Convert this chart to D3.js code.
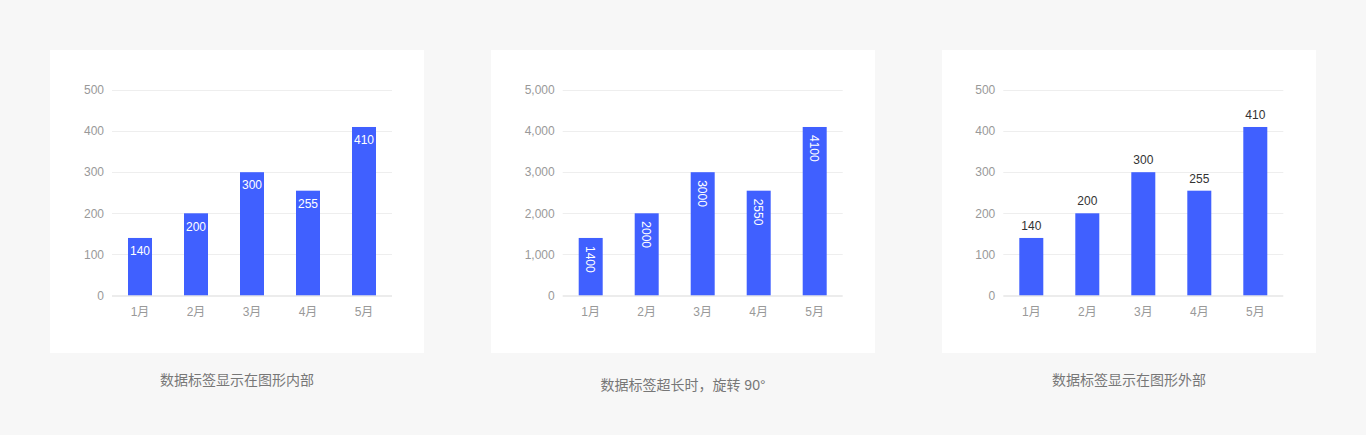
<!DOCTYPE html>
<html lang="zh">
<head>
    <meta charset="UTF-8">
    <title>数据标签</title>
    <script src="https://d3js.org/d3.v7.min.js"></script>
    <style>
        body {
            margin: 0;
            background-color: #f7f7f7;
            font-family: 'Liberation Sans', 'Noto Sans CJK SC', sans-serif;
        }

        .grid line {
            stroke: #eeeeee;
            stroke-width: 1px;
        }

        .tick-label {
            font-size: 12px;
            fill: #999;
        }

        .caption {
            font-size: 14px;
            fill: #777;
        }
    </style>
</head>
<body>
    <svg width="1366" height="435" id="chart"></svg>

    <script>
        const months = ["1月", "2月", "3月", "4月", "5月"];
        const valuesSmall = [140, 200, 300, 255, 410];
        const valuesLarge = [1400, 2000, 3000, 2550, 4100];
        const ticksSmall = [0, 100, 200, 300, 400, 500];
        const ticksLarge = [0, 1000, 2000, 3000, 4000, 5000];
        const captions = ["数据标签显示在图形内部", "数据标签超长时，旋转 90°", "数据标签显示在图形外部"];

        const svg = d3.select("#chart");
        const barColor = "#4060ff";

        // panel boxes, plot area inside each
        const panels = [
            { x: 50, w: 374, plotX: 112, values: valuesSmall, ticks: ticksSmall, max: 500, mode: "inside", captionY: 380 },
            { x: 491, w: 384, plotX: 562.7, values: valuesLarge, ticks: ticksLarge, max: 5000, mode: "rotate", captionY: 385 },
            { x: 942, w: 374, plotX: 1003.3, values: valuesSmall, ticks: ticksSmall, max: 500, mode: "outside", captionY: 380 }
        ];

        const plotW = 280, plotTop = 90, plotBottom = 295.5;

        panels.forEach((p, i) => {
            svg.append("rect")
                .attr("x", p.x).attr("y", 50)
                .attr("width", p.w).attr("height", 303)
                .attr("fill", "#fff");

            const g = svg.append("g").attr("transform", `translate(${p.plotX},0)`);

            const x = d3.scaleBand().domain(months).range([0, plotW])
                .paddingInner(4 / 7).paddingOuter(2 / 7);
            const y = d3.scaleLinear().domain([0, p.max]).range([plotBottom, plotTop]);

            // gridlines
            g.append("g").attr("class", "grid")
                .selectAll("line").data(p.ticks.filter(t => t > 0)).enter()
                .append("line")
                .attr("x1", 0).attr("x2", plotW)
                .attr("y1", d => Math.round(y(d)) + 0.5).attr("y2", d => Math.round(y(d)) + 0.5);

            // y tick labels
            const fmt = p.max > 1000 ? d3.format(",") : d3.format("d");
            g.selectAll(".ytick").data(p.ticks).enter()
                .append("text")
                .attr("class", "tick-label")
                .attr("x", -8)
                .attr("y", d => y(d))
                .attr("dy", "0.35em")
                .attr("text-anchor", "end")
                .text(d => fmt(d));

            // bars
            g.selectAll(".bar").data(p.values).enter()
                .append("rect")
                .attr("x", (d, j) => x(months[j]))
                .attr("y", d => y(d))
                .attr("width", x.bandwidth())
                .attr("height", d => plotBottom - y(d))
                .attr("fill", barColor);

            // x axis line
            g.append("line")
                .attr("x1", 0).attr("x2", plotW)
                .attr("y1", plotBottom + 0.5).attr("y2", plotBottom + 0.5)
                .attr("stroke", "#d9d9d9");

            // x labels
            g.selectAll(".xtick").data(months).enter()
                .append("text")
                .attr("class", "tick-label")
                .attr("x", d => x(d) + x.bandwidth() / 2)
                .attr("y", 312)
                .attr("dy", "0.35em")
                .attr("text-anchor", "middle")
                .text(d => d);

            // data labels
            const labels = g.selectAll(".val").data(p.values).enter()
                .append("text")
                .style("font-size", "12px")
                .text(d => d);

            if (p.mode === "inside") {
                labels.attr("x", (d, j) => x(months[j]) + x.bandwidth() / 2)
                    .attr("y", d => y(d) + 13)
                    .attr("dy", "0.35em")
                    .attr("text-anchor", "middle")
                    .attr("fill", "#fff");
            } else if (p.mode === "rotate") {
                labels.attr("transform", (d, j) =>
                        `translate(${x(months[j]) + x.bandwidth() / 2},${y(d) + 8}) rotate(90)`)
                    .attr("dy", "0.35em")
                    .attr("text-anchor", "start")
                    .attr("fill", "#fff");
            } else {
                labels.attr("x", (d, j) => x(months[j]) + x.bandwidth() / 2)
                    .attr("y", d => y(d) - 8)
                    .attr("text-anchor", "middle")
                    .attr("fill", "#333");
            }

            svg.append("text")
                .attr("class", "caption")
                .attr("x", p.x + p.w / 2)
                .attr("y", p.captionY)
                .attr("dy", "0.35em")
                .attr("text-anchor", "middle")
                .text(captions[i]);
        });
    </script>
</body>
</html>
